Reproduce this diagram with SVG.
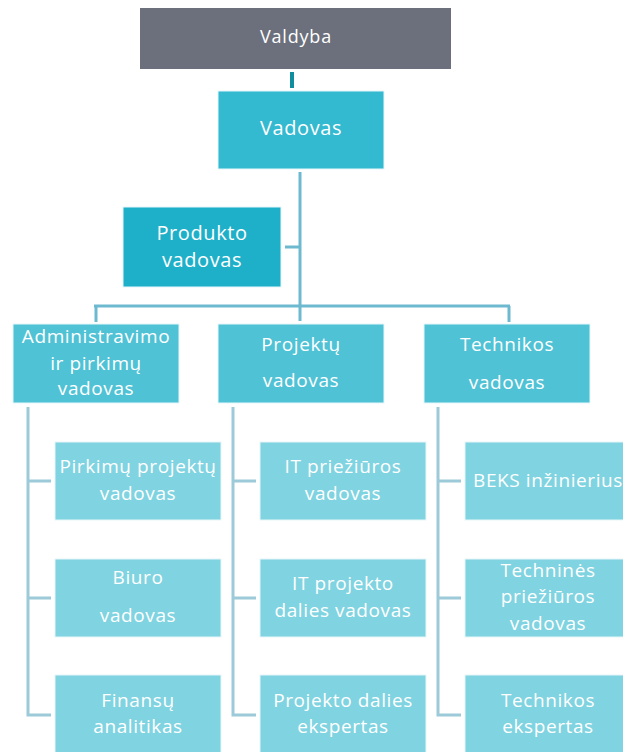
<svg xmlns="http://www.w3.org/2000/svg" width="623" height="752" viewBox="0 0 623 752">
<style>
text{font-family:"Open Sans","Liberation Sans",sans-serif;fill:#fff;text-anchor:middle;font-size:19px;letter-spacing:0.6px}
.box{stroke:#e6f6f9;stroke-width:1}
.top{fill:#6b707c;stroke:none}
.l0{fill:#33b9d0}
.lp{fill:#1fb0c9}
.l1{fill:#4fc2d5}
.l2{fill:#80d3e0}
.main{stroke:#6db9cf;stroke-width:3;fill:none}
.sub{stroke:#9ccad8;stroke-width:3;fill:none}
</style>
<g id="connectors">
<line x1="292" y1="72" x2="292" y2="88" stroke="#108d9f" stroke-width="4"/>
<line class="main" x1="300" y1="172" x2="300" y2="321"/>
<line class="main" x1="94" y1="306" x2="510" y2="306"/>
<line class="main" x1="96" y1="306" x2="96" y2="322"/>
<line class="main" x1="509" y1="306" x2="509" y2="322"/>
<line class="main" x1="285" y1="247" x2="300" y2="247"/>
<path class="sub" d="M28 407 V715 H51 M28 481 H51 M28 598 H51"/>
<path class="sub" d="M233 407 V715 H256 M233 481 H256 M233 598 H256"/>
<path class="sub" d="M438 407 V715 H461 M438 481 H461 M438 598 H461"/>
</g>
<g id="valdyba"><rect class="top" x="140" y="8" width="311" height="61"/><text x="296" y="43" style="font-size:18px;letter-spacing:0.8px">Valdyba</text></g>
<g id="vadovas"><rect class="box l0" x="218" y="91" width="166" height="78"/><text x="301" y="135" style="font-size:20px">Vadovas</text></g>
<g id="produkto"><rect class="box lp" x="123" y="207" width="158" height="80"/><text x="202" y="240" style="font-size:20px">Produkto</text><text x="202" y="267" style="font-size:20px">vadovas</text></g>
<g id="admin"><rect class="box l1" x="13" y="324" width="166" height="79"/><text x="96" y="343">Administravimo</text><text x="96" y="370">ir pirkimų</text><text x="96" y="395">vadovas</text></g>
<g id="projektu"><rect class="box l1" x="218" y="324" width="166" height="79"/><text x="301" y="351">Projektų</text><text x="301" y="387">vadovas</text></g>
<g id="technikos"><rect class="box l1" x="424" y="324" width="166" height="79"/><text x="507" y="351">Technikos</text><text x="507" y="389">vadovas</text></g>
<g id="pirkimu"><rect class="box l2" x="55" y="442" width="166" height="78"/><text x="138" y="473">Pirkimų projektų</text><text x="138" y="500">vadovas</text></g>
<g id="biuro"><rect class="box l2" x="55" y="559" width="166" height="78"/><text x="138" y="584">Biuro</text><text x="138" y="622">vadovas</text></g>
<g id="finansu"><rect class="box l2" x="55" y="675" width="166" height="78"/><text x="138" y="707">Finansų</text><text x="138" y="733">analitikas</text></g>
<g id="it-priez"><rect class="box l2" x="260" y="442" width="166" height="78"/><text x="343" y="473">IT priežiūros</text><text x="343" y="500">vadovas</text></g>
<g id="it-proj"><rect class="box l2" x="260" y="559" width="166" height="78"/><text x="343" y="590">IT projekto</text><text x="343" y="617">dalies vadovas</text></g>
<g id="proj-eksp"><rect class="box l2" x="260" y="675" width="166" height="78"/><text x="343" y="707">Projekto dalies</text><text x="343" y="733">ekspertas</text></g>
<g id="beks"><rect class="box l2" x="465" y="442" width="166" height="78"/><text x="548" y="487">BEKS inžinierius</text></g>
<g id="tech-priez"><rect class="box l2" x="465" y="559" width="166" height="78"/><text x="548" y="577">Techninės</text><text x="548" y="603">priežiūros</text><text x="548" y="630">vadovas</text></g>
<g id="tech-eksp"><rect class="box l2" x="465" y="675" width="166" height="78"/><text x="548" y="707">Technikos</text><text x="548" y="733">ekspertas</text></g>
</svg>
